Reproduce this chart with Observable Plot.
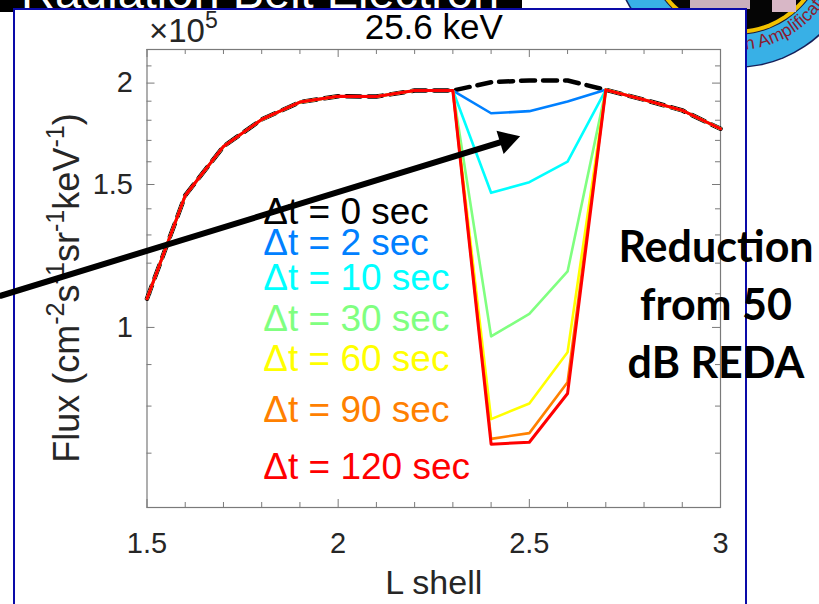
<!DOCTYPE html>
<html><head><meta charset="utf-8">
<script src="https://cdn.jsdelivr.net/npm/d3@7"></script>
<script src="https://cdn.jsdelivr.net/npm/@observablehq/plot@0.6"></script>
<style>
html,body{margin:0;padding:0;background:#fff;}
#stage{position:relative;width:819px;height:604px;overflow:hidden;background:#fff;font-family:"Liberation Sans",Arial,sans-serif;}
#deco{position:absolute;left:0;top:0;}
#frame{position:absolute;left:13px;top:8px;width:734px;height:640px;box-sizing:border-box;border:2.5px solid #0a0aa8;background:#fff;}
#chart{position:absolute;left:0;top:0;}
#note{position:absolute;left:614px;top:217px;width:204px;text-align:center;font-family:Lato,"Open Sans",sans-serif;font-weight:700;font-size:43px;line-height:58px;color:#000;}
</style></head>
<body>
<div id="stage">
  <svg id="deco" width="819" height="604">
    <rect x="0" y="0" width="522" height="12" fill="#000"/>
    <text x="21" y="8" fill="#fff" font-size="47" font-family="Liberation Sans, Arial, sans-serif">Radiation Belt Electron</text>
    <circle cx="736" cy="-56" r="124" fill="#16205a"/>
    <circle cx="736" cy="-56" r="122.5" fill="#38b0e6"/>
    <circle cx="736" cy="-56" r="91" fill="#1a1a3a"/>
    <circle cx="736" cy="-56" r="90" fill="#f2c200"/>
    <circle cx="736" cy="-56" r="86" fill="#050505"/>
    <rect x="690" y="0" width="60" height="9" fill="#c9b0bd"/>
    <rect x="772" y="0" width="24" height="12" fill="#d8b7c6"/>
    <path id="ring" d="M 630 -56 A 106 106 0 0 0 842 -56" fill="none"/>
    <text font-size="18" fill="#8a1c30" font-family="Liberation Sans, Arial, sans-serif"><textPath href="#ring" startOffset="176">n Amplification</textPath></text>
  </svg>
  <div id="frame"></div>
  <div id="chart"></div>
  <div id="note">Reduction<br>from 50<br>dB REDA</div>
</div>
<script>
// ---------- data (flux in units of 10^5) ----------
const L = [1.5, 1.6, 1.7, 1.8, 1.9, 2.0, 2.1, 2.2, 2.3, 2.4, 2.5, 2.6, 2.7, 2.8, 2.9, 3.0];
const flux0 = [1.085, 1.454, 1.671, 1.804, 1.895, 1.927, 1.925, 1.958, 1.958, 2.005, 2.015, 2.015, 1.962, 1.908, 1.851, 1.757];
const dipL = [2.4, 2.5, 2.6];
const dip2 = [1.836, 1.847, 1.898];
const dip10 = [1.465, 1.51, 1.601];
const dip30 = [0.975, 1.039, 1.172];
const dip60 = [0.771, 0.806, 0.932];
const dip90 = [0.729, 0.741, 0.856];
const dip120 = [0.718, 0.722, 0.829];
const seriesLabels = ["\u0394t = 0 sec", "\u0394t = 2 sec", "\u0394t = 10 sec", "\u0394t = 30 sec", "\u0394t = 60 sec", "\u0394t = 90 sec", "\u0394t = 120 sec"];
const xTickValues = [1.5, 2, 2.5, 3];
const xTickLabels = ["1.5", "2", "2.5", "3"];
const xMinorTicks = [1.6, 1.7, 1.8, 1.9, 2.1, 2.2, 2.3, 2.4, 2.6, 2.7, 2.8, 2.9];
const yTickValues = [1, 1.5, 2];
const yTickLabels = ["1", "1.5", "2"];
const yMinorTicks = [0.6, 0.7, 0.8, 0.9, 1.1, 1.2, 1.3, 1.4, 1.6, 1.7, 1.8, 1.9, 2.1, 2.2];
const titleText = "25.6 keV";
const xLabelText = "L shell";

// ---------- styles & layout ----------
const colors = ["#000000", "#0080ff", "#00ffff", "#80ff80", "#ffff00", "#ff8000", "#ff0000"];
const legendX = 1.804;
const legendY = [1.385, 1.269, 1.149, 1.025, 0.915, 0.790, 0.672];
const arrowStart = {L: 1.117, flux: 1.094};
const arrowTip = {L: 2.476, flux: 1.72};

const W = 819, H = 604, mL = 146.5, mR = 99, mT = 49, mB = 97;
const plotW = W - mL - mR, plotH = H - mT - mB;
const axisColor = "#7a7a7a", textColor = "#262626";

const dips = [null, dip2, dip10, dip30, dip60, dip90, dip120];
function seriesRows(k) {
  return L.map((l, i) => {
    const j = dipL.indexOf(l);
    return {L: l, flux: (k > 0 && j >= 0) ? dips[k][j] : flux0[i]};
  });
}

const marks = [
  Plot.frame({stroke: axisColor, strokeWidth: 1.2}),
  // x ticks (bottom & top, inward)
  Plot.tickX(xMinorTicks, {x: d => d, insetTop: plotH - 5, stroke: axisColor}),
  Plot.tickX(xMinorTicks, {x: d => d, insetBottom: plotH - 5, stroke: axisColor}),
  Plot.tickX(xTickValues, {x: d => d, insetTop: plotH - 8, stroke: axisColor}),
  Plot.tickX(xTickValues, {x: d => d, insetBottom: plotH - 8, stroke: axisColor}),
  // y ticks (left & right, inward)
  Plot.tickY(yMinorTicks, {y: d => d, insetRight: plotW - 5, stroke: axisColor}),
  Plot.tickY(yMinorTicks, {y: d => d, insetLeft: plotW - 5, stroke: axisColor}),
  Plot.tickY(yTickValues, {y: d => d, insetRight: plotW - 8, stroke: axisColor}),
  Plot.tickY(yTickValues, {y: d => d, insetLeft: plotW - 8, stroke: axisColor}),
  // tick labels
  Plot.text(xTickValues, {x: d => d, frameAnchor: "bottom", lineAnchor: "middle", dy: 36, text: (d, i) => xTickLabels[i], fontSize: 29, fill: textColor}),
  Plot.text(yTickValues, {y: d => d, frameAnchor: "left", lineAnchor: "middle", dx: -14, textAnchor: "end", text: (d, i) => yTickLabels[i], fontSize: 29, fill: textColor}),
  Plot.text([titleText], {frameAnchor: "top", lineAnchor: "middle", dy: -22, text: d => d, fontSize: 35, fill: "#000"}),
  Plot.text([xLabelText], {frameAnchor: "bottom", lineAnchor: "middle", dy: 76, text: d => d, fontSize: 34, fill: textColor}),
  // data lines
  Plot.line(seriesRows(0), {x: "L", y: "flux", stroke: colors[0], strokeWidth: 4.5, strokeDasharray: "14,8"})
];
for (let k = 1; k < 7; k++) {
  marks.push(Plot.line(seriesRows(k), {x: "L", y: "flux", stroke: colors[k], strokeWidth: k === 6 ? 3 : 2.6}));
}
// legend labels
seriesLabels.forEach((s, k) => {
  marks.push(Plot.text([s], {x: () => legendX, y: () => legendY[k], text: d => d, textAnchor: "start", lineAnchor: "middle", fontSize: 37, fill: colors[k]}));
});
// annotation arrow
marks.push(Plot.arrow([0], {x1: () => arrowStart.L, y1: () => arrowStart.flux, x2: () => arrowTip.L, y2: () => arrowTip.flux, stroke: "#000", strokeWidth: 6, headLength: 0, insetEnd: 10}));
marks.push(Plot.dot([0], {x: () => arrowTip.L, y: () => arrowTip.flux, symbol: "triangle", r: 9, fill: "#000", stroke: "none", rotate: 73, dx: -13.4, dy: 4.1}));

const chart = Plot.plot({
  width: W, height: H,
  marginLeft: mL, marginRight: mR, marginTop: mT, marginBottom: mB,
  style: {background: "transparent", overflow: "visible", fontFamily: "Liberation Sans, Arial, sans-serif"},
  x: {domain: [1.5, 3], axis: null},
  y: {type: "log", domain: [0.6, 2.2], axis: null},
  marks
});

// rich-text labels (superscripts)
const ns = "http://www.w3.org/2000/svg";
function richText(parts, attrs, baseSize) {
  const t = document.createElementNS(ns, "text");
  for (const [k, v] of Object.entries(attrs)) t.setAttribute(k, v);
  t.setAttribute("font-size", baseSize);
  let raised = false;
  for (const [str, sup] of parts) {
    const s = document.createElementNS(ns, "tspan");
    if (sup && !raised) { s.setAttribute("dy", -0.42 * baseSize); raised = true; }
    else if (!sup && raised) { s.setAttribute("dy", 0.42 * baseSize); raised = false; }
    if (sup) s.setAttribute("font-size", 0.7 * baseSize);
    s.textContent = str;
    t.appendChild(s);
  }
  return t;
}
const yLabel = richText(
  [["Flux (cm", false], ["-2", true], ["s", false], ["-1", true], ["sr", false], ["-1", true], ["keV", false], ["-1", true], [")", false]],
  {transform: "translate(79,288) rotate(-90)", "text-anchor": "middle", fill: textColor, "font-family": "Liberation Sans, Arial, sans-serif"}, 36);
const expLabel = richText(
  [["\u00d710", false], ["5", true]],
  {x: 149, y: 42, "text-anchor": "start", fill: textColor, "font-family": "Liberation Sans, Arial, sans-serif"}, 33);
const firstMark = chart.children[1] || null;
chart.insertBefore(yLabel, firstMark);
chart.insertBefore(expLabel, firstMark);

document.getElementById("chart").appendChild(chart);
</script>
</body></html>
